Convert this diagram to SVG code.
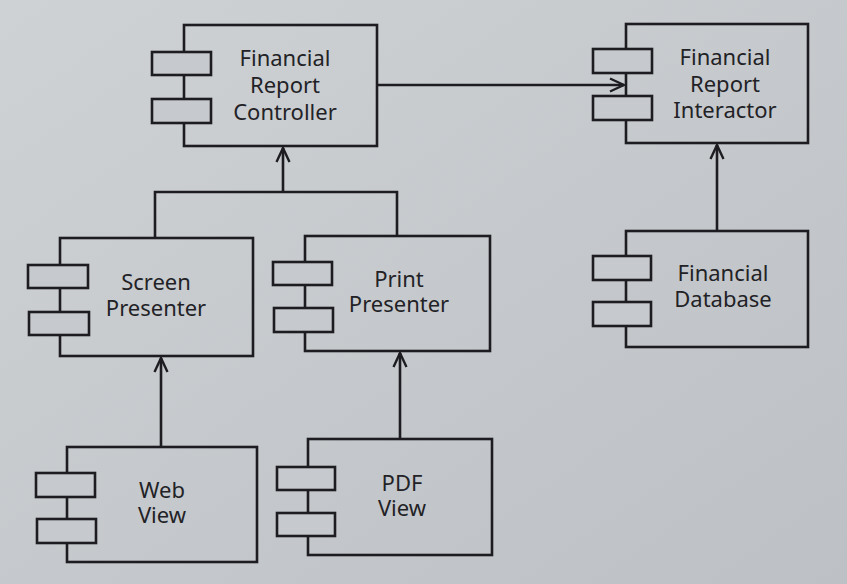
<svg xmlns="http://www.w3.org/2000/svg" width="847" height="584" viewBox="0 0 847 584">
<defs>
<style>
.box{fill:none;stroke:#1d1d21;stroke-width:2.6}
.port{fill:#c6c9cd;stroke:#1d1d21;stroke-width:2.6}
.lbl{font-family:"Noto Sans","Open Sans",sans-serif;font-size:22px;fill:#222226;text-anchor:middle}
.conn{fill:none;stroke:#1d1d21;stroke-width:2.6}
</style>
<marker id="arr" viewBox="0 0 16 16" refX="15" refY="8" markerWidth="16" markerHeight="16" markerUnits="userSpaceOnUse" orient="auto">
<path d="M1,1.5 L15,8 L1,14.5" fill="none" stroke="#1d1d21" stroke-width="2.4"/>
</marker>
<linearGradient id="bg" x1="0" y1="0" x2="1" y2="1">
<stop offset="0" stop-color="#cfd2d5"/>
<stop offset="1" stop-color="#bdc0c4"/>
</linearGradient>
</defs>
<rect width="847" height="584" fill="url(#bg)"/>

<g id="connectors">
<path class="conn" d="M377,85 L624,85" marker-end="url(#arr)"/>
<path class="conn" d="M717,231 L717,145" marker-end="url(#arr)"/>
<path class="conn" d="M155,237 L155,192 L397,192 L397,236 M283,192 L283,148" marker-end="url(#arr)"/>
<path class="conn" d="M161,447 L161,358" marker-end="url(#arr)"/>
<path class="conn" d="M400,438 L400,353" marker-end="url(#arr)"/>
</g>

<g id="controller">
<rect class="box" x="184" y="25" width="193" height="121"/>
<rect class="port" x="152" y="52" width="59" height="23"/>
<rect class="port" x="152" y="99" width="59" height="24"/>
<text class="lbl" x="285" y="66">Financial</text>
<text class="lbl" x="285" y="93">Report</text>
<text class="lbl" x="285" y="120">Controller</text>
</g>

<g id="interactor">
<rect class="box" x="626" y="24" width="182" height="119"/>
<rect class="port" x="593" y="49" width="59" height="24"/>
<rect class="port" x="593" y="96" width="59" height="24"/>
<text class="lbl" x="725" y="65">Financial</text>
<text class="lbl" x="725" y="92">Report</text>
<text class="lbl" x="725" y="118">Interactor</text>
</g>

<g id="database">
<rect class="box" x="626" y="231" width="182" height="116"/>
<rect class="port" x="593" y="256" width="58" height="24"/>
<rect class="port" x="593" y="302" width="58" height="24"/>
<text class="lbl" x="723" y="281">Financial</text>
<text class="lbl" x="723" y="307">Database</text>
</g>

<g id="screenPresenter">
<rect class="box" x="60" y="238" width="193" height="118"/>
<rect class="port" x="28" y="265" width="60" height="23"/>
<rect class="port" x="29" y="312" width="60" height="23"/>
<text class="lbl" x="156" y="290">Screen</text>
<text class="lbl" x="156" y="316">Presenter</text>
</g>

<g id="printPresenter">
<rect class="box" x="305" y="236" width="185" height="115"/>
<rect class="port" x="273" y="262" width="59" height="23"/>
<rect class="port" x="274" y="308" width="59" height="24"/>
<text class="lbl" x="399" y="287">Print</text>
<text class="lbl" x="399" y="312">Presenter</text>
</g>

<g id="webView">
<rect class="box" x="67" y="447" width="190" height="115"/>
<rect class="port" x="36" y="473" width="59" height="24"/>
<rect class="port" x="37" y="519" width="59" height="24"/>
<text class="lbl" x="162" y="498">Web</text>
<text class="lbl" x="162" y="523">View</text>
</g>

<g id="pdfView">
<rect class="box" x="308" y="439" width="184" height="116"/>
<rect class="port" x="277" y="467" width="58" height="23"/>
<rect class="port" x="277" y="513" width="58" height="23"/>
<text class="lbl" x="402" y="491">PDF</text>
<text class="lbl" x="402" y="516">View</text>
</g>
</svg>
